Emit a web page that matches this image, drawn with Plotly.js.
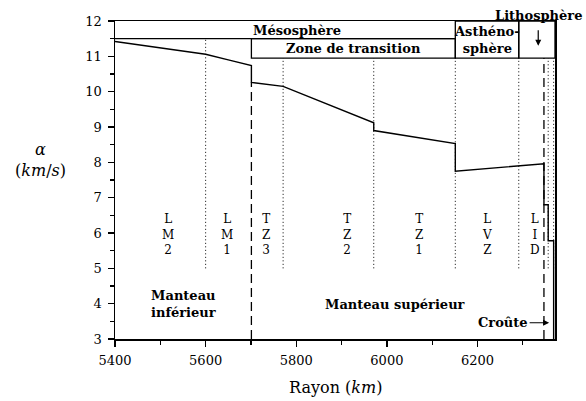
<!DOCTYPE html>
<html>
<head>
<meta charset="utf-8">
<script src="https://cdn.plot.ly/plotly-3.0.1.min.js"></script>
<style>html,body{margin:0;padding:0;background:#fff;}#chart{width:586px;height:401px;}</style>
</head>
<body>
<div id="chart"></div>
<script>
// P-wave velocity profile (km/s) versus radius (km)
const radius = [5400, 5450, 5500, 5550, 5600, 5650, 5701, 5701, 5771, 5971, 5971, 6151, 6151, 6346.6, 6346.6, 6356, 6356, 6368, 6368, 6371];
const vp     = [11.42, 11.33, 11.25, 11.16, 11.06, 10.90, 10.74, 10.26, 10.15, 9.12, 8.90, 8.53, 7.75, 7.96, 6.80, 6.80, 5.78, 5.78, 1.45, 1.45];

// zone boundaries
const dottedR   = [5600, 5771, 5971, 6151, 6291, 6356, 6368];
const dottedTop = [11.5, 10.95, 10.95, 10.95, 10.95, 10.95, 10.95];
const dottedBottom = 5;
const dashedR   = [5701, 6346.6];
const dashedTop = [10.26, 10.95];

// zone labels
const zoneNames = ['L<br>M<br>2', 'L<br>M<br>1', 'T<br>Z<br>3', 'T<br>Z<br>2', 'T<br>Z<br>1', 'L<br>V<br>Z', 'L<br>I<br>D'];
const zoneR     = [5517, 5648, 5734, 5912, 6071, 6222, 6326];
const zoneV     = 5.95;

// top region boxes
const mesoLine = {x0: 5400, x1: 6151, y: 11.5};
const tzBox    = {x0: 5701, x1: 6151, y0: 10.95, y1: 11.5};
const asthBox  = {x0: 6151, x1: 6291, y0: 10.95, y1: 12};
const lithBox  = {x0: 6291, x1: 6371, y0: 10.95, y1: 12};

const xTicks = [5400, 5600, 5800, 6000, 6200];
const yTicks = [3, 4, 5, 6, 7, 8, 9, 10, 11, 12];

const serif = 'DejaVu Serif';
const bold = {family: serif, size: 13, color: '#000', weight: 'bold'};

const shapes = [];
dottedR.forEach((r, i) => shapes.push({type: 'line', xref: 'x', yref: 'y', x0: r, x1: r, y0: dottedBottom, y1: dottedTop[i], line: {color: '#000', width: 1, dash: '1px,2.5px'}}));
dashedR.forEach((r, i) => shapes.push({type: 'line', xref: 'x', yref: 'y', x0: r, x1: r, y0: 3, y1: dashedTop[i], line: {color: '#000', width: 1.3, dash: '9px,5px'}}));
shapes.push({type: 'line', xref: 'x', yref: 'y', x0: mesoLine.x0, x1: mesoLine.x1, y0: mesoLine.y, y1: mesoLine.y, line: {color: '#000', width: 1.3}});
[tzBox, asthBox, lithBox].forEach(b => shapes.push({type: 'rect', xref: 'x', yref: 'y', x0: b.x0, x1: b.x1, y0: b.y0, y1: b.y1, line: {color: '#000', width: 1.3}}));

const annotations = [];
zoneNames.forEach((t, i) => annotations.push({x: zoneR[i], y: zoneV, xref: 'x', yref: 'y', text: t, showarrow: false, font: {family: serif, size: 12, color: '#000'}}));
annotations.push({x: 5701, y: 11.72, xref: 'x', yref: 'y', text: 'Mésosphère', xanchor: 'left', showarrow: false, font: bold});
annotations.push({x: (tzBox.x0 + tzBox.x1) / 2, y: 11.23, xref: 'x', yref: 'y', text: 'Zone de transition', showarrow: false, font: bold});
annotations.push({x: (asthBox.x0 + asthBox.x1) / 2, y: 11.45, xref: 'x', yref: 'y', text: 'Asthéno-<br>sphère', showarrow: false, font: bold});
annotations.push({x: 6334, y: 1.016, xref: 'x', yref: 'paper', yanchor: 'middle', text: 'Lithosphère', showarrow: false, font: bold});
annotations.push({x: 6334, y: 11.3, xref: 'x', yref: 'y', ax: 6334, ay: 11.78, axref: 'x', ayref: 'y', text: '', showarrow: true, arrowhead: 2, arrowsize: 1, arrowwidth: 1.2, arrowcolor: '#000'});
annotations.push({x: 5551, y: 4.0, xref: 'x', yref: 'y', text: 'Manteau<br>inférieur', showarrow: false, font: bold});
annotations.push({x: 6019, y: 3.99, xref: 'x', yref: 'y', text: 'Manteau supérieur', showarrow: false, font: bold});
annotations.push({x: 6358, y: 3.46, xref: 'x', yref: 'y', text: 'Croûte', showarrow: true, ax: -46, ay: 0, arrowhead: 2, arrowsize: 1, arrowwidth: 1.2, arrowcolor: '#000', standoff: 0, font: bold});
annotations.push({x: -0.17, y: 0.563, xref: 'paper', yref: 'paper', xanchor: 'center', yanchor: 'middle', text: '<i>α</i><br>(<i>km</i>/<i>s</i>)', showarrow: false, font: {family: serif, size: 16, color: '#000'}});
annotations.push({x: 0.5, y: -0.154, xref: 'paper', yref: 'paper', xanchor: 'center', yanchor: 'middle', text: 'Rayon (<i>km</i>)', showarrow: false, font: {family: serif, size: 16, color: '#000'}});

const trace = {x: radius, y: vp, type: 'scatter', mode: 'lines', line: {color: '#000', width: 1.4}, hoverinfo: 'none'};

const axisCommon = {showgrid: false, zeroline: false, showline: true, mirror: true, linecolor: '#000', linewidth: 1.5, ticks: 'outside', ticklen: 6, tickwidth: 1.3, tickcolor: '#000', ticklabelstandoff: 3, tickfont: {family: serif, size: 13, color: '#000'}};

const layout = {
  width: 586, height: 401,
  margin: {l: 115, r: 31, t: 21, b: 62},
  paper_bgcolor: '#fff', plot_bgcolor: '#fff',
  showlegend: false,
  xaxis: Object.assign({}, axisCommon, {range: [5400, 6371], tickmode: 'array', tickvals: xTicks, ticktext: xTicks.map(String),
    minor: {ticks: 'outside', ticklen: 4, tickwidth: 1.2, tickcolor: '#000', tick0: 5400, dtick: 100}}),
  yaxis: Object.assign({}, axisCommon, {range: [3, 12], tickmode: 'array', tickvals: yTicks, ticktext: yTicks.map(String),
    minor: {ticks: 'outside', ticklen: 4, tickwidth: 1.2, tickcolor: '#000', tick0: 3, dtick: 0.5}}),
  shapes: shapes,
  annotations: annotations
};

Plotly.newPlot('chart', [trace], layout, {displayModeBar: false, staticPlot: true});
</script>
</body>
</html>
